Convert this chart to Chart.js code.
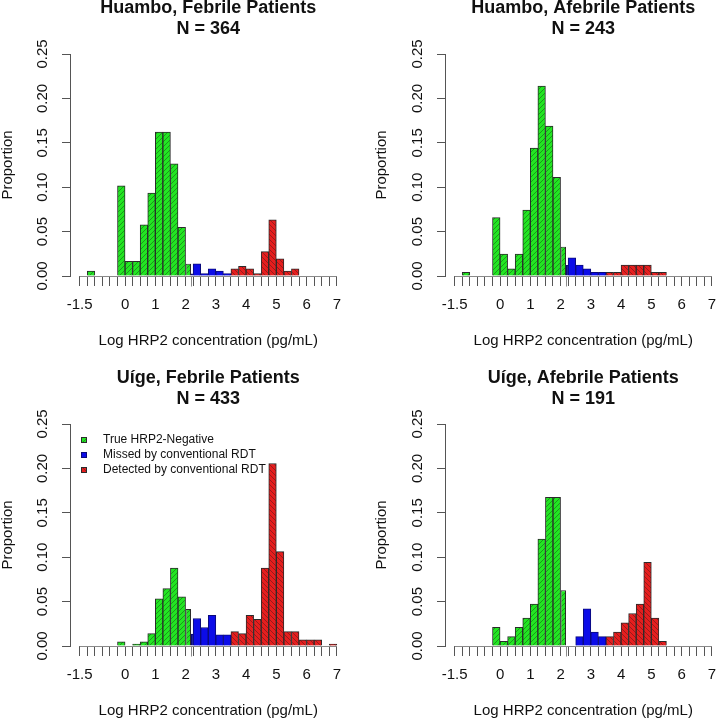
<!DOCTYPE html>
<html>
<head>
<meta charset="utf-8">
<script src="https://cdn.jsdelivr.net/npm/chart.js@4.4.1/dist/chart.umd.min.js"></script>
<style>
  html, body { margin: 0; padding: 0; overflow: hidden; background: #fff; }
  body { position: relative; width: 717px; height: 720px; }
  canvas { position: absolute; }
</style>
</head>
<body>
<canvas id="c1" width="358" height="360" style="left:0;top:-10px"></canvas>
<canvas id="c2" width="380" height="360" style="left:358px;top:-10px"></canvas>
<canvas id="c3" width="358" height="360" style="left:0;top:360px"></canvas>
<canvas id="c4" width="380" height="360" style="left:358px;top:360px"></canvas>
<script>
// --- bins (log10 pg/mL), width 0.25; the RDT cut-off splits the 2.0-2.25 bin ---
const BIN = 0.25;
const CUTOFF = 2.18;
const negativeBins = [-1.5, -1.25, -1, -0.75, -0.5, -0.25, 0, 0.25, 0.5, 0.75, 1, 1.25, 1.5, 1.75];
const negativeEdgeBin = [2, CUTOFF];
const missedEdgeBin = [CUTOFF, 2.25];
const missedBins = [2.25, 2.5, 2.75, 3, 3.25];
const detectedBins = [3.5, 3.75, 4, 4.25, 4.5, 4.75, 5, 5.25, 5.5, 5.75, 6, 6.25, 6.5, 6.75];
const lastEdge = 7;

const xLabelValues = [-1.5, 0, 1, 2, 3, 4, 5, 6, 7];
const yTickValues = [0, 0.05, 0.10, 0.15, 0.20, 0.25];

const legendLabels = ['True HRP2-Negative', 'Missed by conventional RDT', 'Detected by conventional RDT'];

// --- proportions ---
// Huambo, febrile (N = 364)
const huamboFebNegative = [0, 0.0055, 0, 0, 0, 0.1016, 0.0165, 0.0165, 0.0577, 0.0934, 0.1621, 0.1621, 0.1264, 0.0549];
const huamboFebNegEdge = 0.0137;
const huamboFebMissEdge = 0.0027;
const huamboFebMissed = [0.0137, 0.0027, 0.0082, 0.0055, 0.0027];
const huamboFebDetected = [0.0082, 0.011, 0.0082, 0.0027, 0.0275, 0.0632, 0.0192, 0.0055, 0.0082, 0, 0, 0, 0, 0];

// Huambo, afebrile (N = 243)
const huamboAfebNegative = [0, 0.0041, 0, 0, 0, 0.0658, 0.0247, 0.0082, 0.0247, 0.0741, 0.144, 0.214, 0.1687, 0.1111];
const huamboAfebNegEdge = 0.0329;
const huamboAfebMissEdge = 0.0123;
const huamboAfebMissed = [0.0206, 0.0123, 0.0082, 0.0041, 0.0041];
const huamboAfebDetected = [0.0041, 0.0041, 0.0123, 0.0123, 0.0123, 0.0123, 0.0041, 0.0041, 0, 0, 0, 0, 0, 0];

// Uige, febrile (N = 433)
const uigeFebNegative = [0, 0, 0, 0, 0, 0.0046, 0, 0.0023, 0.0046, 0.0139, 0.0531, 0.0647, 0.0878, 0.0554];
const uigeFebNegEdge = 0.0416;
const uigeFebMissEdge = 0.0139;
const uigeFebMissed = [0.031, 0.0208, 0.0346, 0.0125, 0.0125];
const uigeFebDetected = [0.0162, 0.0139, 0.0346, 0.030, 0.0878, 0.2055, 0.1062, 0.0162, 0.0162, 0.0069, 0.0069, 0.0069, 0, 0.0023];

// Uige, afebrile (N = 191)
const uigeAfebNegative = [0, 0, 0, 0, 0, 0.0209, 0.0052, 0.0105, 0.0209, 0.0314, 0.0471, 0.1204, 0.1675, 0.1675];
const uigeAfebNegEdge = 0.0628;
const uigeAfebMissEdge = 0;
const uigeAfebMissed = [0, 0.0105, 0.0419, 0.0157, 0.0105];
const uigeAfebDetected = [0.0105, 0.0157, 0.0262, 0.0366, 0.0471, 0.0942, 0.0314, 0.0052, 0, 0, 0, 0, 0, 0];

const FONT = '"Liberation Sans", Arial, Helvetica, sans-serif';
Chart.defaults.font.family = FONT;
Chart.defaults.color = '#111';

const X_MIN = -1.82;
const X_MAX = 7.32;
const binTickValues = [...negativeBins, negativeEdgeBin[0], ...missedBins, ...detectedBins, lastEdge];

// hatched fill like R's density lines
function hatch(base, ink, dir) {
  const s = 5;
  const c = document.createElement('canvas');
  c.width = s; c.height = s;
  const g = c.getContext('2d');
  g.fillStyle = base;
  g.fillRect(0, 0, s, s);
  g.strokeStyle = ink;
  g.lineWidth = 1;
  g.beginPath();
  if (dir > 0) {
    g.moveTo(0, s); g.lineTo(s, 0);
    g.moveTo(-1, 1); g.lineTo(1, -1);
    g.moveTo(s - 1, s + 1); g.lineTo(s + 1, s - 1);
  } else {
    g.moveTo(0, 0); g.lineTo(s, s);
    g.moveTo(-1, s - 1); g.lineTo(1, s + 1);
    g.moveTo(s - 1, -1); g.lineTo(s + 1, 1);
  }
  g.stroke();
  return g.createPattern(c, 'repeat');
}

const greenFill = hatch('#22e622', '#1c961c', 1);
const redFill = hatch('#e61e1e', '#961c1c', -1);
const blueFill = '#0c0ce8';
const darkEdge = '#2b2b2b';
const blueEdge = '#0a0a7a';

const setBinTicks = scale => { scale.ticks = binTickValues.map(v => ({ value: v })); };
const setYTicks = scale => { scale.ticks = yTickValues.map(v => ({ value: v })); };

const toPoints = (starts, values) => starts.map((s, i) => ({ x: s + BIN / 2, y: values[i] }));

// invisible copy of the x axis, only carries the narrow bars at the cut-off
const edgeAxis = {
  type: 'linear', display: true, offset: false, min: X_MIN, max: X_MAX,
  afterBuildTicks: setBinTicks,
  border: { display: false },
  grid: { display: false, drawTicks: false },
  ticks: { display: false }
};

// x baseline from -1.5 to 7 plus the cut-off tick, like R's axis
const baselinePlugin = {
  id: 'baseline',
  beforeDatasetsDraw(chart) {
    const { ctx, scales: { x, y } } = chart;
    const y0 = Math.round(y.getPixelForValue(0)) + 0.5;
    ctx.save();
    ctx.strokeStyle = '#8a8a8a';
    ctx.lineWidth = 1;
    ctx.beginPath();
    ctx.moveTo(x.getPixelForValue(binTickValues[0]), y0);
    ctx.lineTo(x.getPixelForValue(lastEdge), y0);
    const xc = Math.round(x.getPixelForValue(CUTOFF)) + 0.5;
    ctx.moveTo(xc, y0);
    ctx.lineTo(xc, y0 + 10);
    ctx.stroke();
    ctx.restore();
  }
};

const legendPlugin = {
  id: 'boxLegend',
  afterDraw(chart, args, opts) {
    if (!opts.show) return;
    const { ctx, chartArea } = chart;
    const fills = [greenFill, blueFill, redFill];
    ctx.save();
    ctx.font = '12px ' + FONT;
    ctx.textBaseline = 'middle';
    legendLabels.forEach((t, i) => {
      const yy = chartArea.top + 16 + 15 * i;
      ctx.fillStyle = fills[i];
      ctx.fillRect(chartArea.left + 11, yy - 3, 6, 6);
      ctx.strokeStyle = i === 1 ? blueEdge : darkEdge;
      ctx.lineWidth = 1;
      ctx.strokeRect(chartArea.left + 11.5, yy - 2.5, 5, 5);
      ctx.fillStyle = '#111';
      ctx.fillText(t, chartArea.left + 33, yy);
    });
    ctx.restore();
  }
};

const panels = [
  { id: 'c1', title: ['Huambo, Febrile Patients', 'N = 364'], neg: huamboFebNegative, negEdge: huamboFebNegEdge,
    missEdge: huamboFebMissEdge, missed: huamboFebMissed, detected: huamboFebDetected, padLeft: 0, yGap: 19.7, padRight: 11.5, legend: false },
  { id: 'c2', title: ['Huambo, Afebrile Patients', 'N = 243'], neg: huamboAfebNegative, negEdge: huamboAfebNegEdge,
    missEdge: huamboAfebMissEdge, missed: huamboAfebMissed, detected: huamboAfebDetected, padLeft: 16, yGap: 20.7, padRight: 16.5, legend: false },
  { id: 'c3', title: ['Uíge, Febrile Patients', 'N = 433'], neg: uigeFebNegative, negEdge: uigeFebNegEdge,
    missEdge: uigeFebMissEdge, missed: uigeFebMissed, detected: uigeFebDetected, padLeft: 0, yGap: 19.7, padRight: 11.5, legend: true },
  { id: 'c4', title: ['Uíge, Afebrile Patients', 'N = 191'], neg: uigeAfebNegative, negEdge: uigeAfebNegEdge,
    missEdge: uigeAfebMissEdge, missed: uigeAfebMissed, detected: uigeAfebDetected, padLeft: 16, yGap: 20.7, padRight: 16.5, legend: false }
];

const barCommon = { grouped: false, categoryPercentage: 1, barPercentage: 1, borderWidth: 1, borderSkipped: 'start' };

panels.forEach(p => new Chart(document.getElementById(p.id), {
  type: 'bar',
  data: {
    datasets: [
      { ...barCommon, label: legendLabels[0], data: toPoints(negativeBins, p.neg), xAxisID: 'x',
        backgroundColor: greenFill, borderColor: darkEdge },
      { ...barCommon, label: legendLabels[0] + ' (edge)', xAxisID: 'xNegEdge',
        data: [{ x: (negativeEdgeBin[0] + negativeEdgeBin[1]) / 2, y: p.negEdge }],
        barPercentage: (negativeEdgeBin[1] - negativeEdgeBin[0]) / BIN,
        backgroundColor: greenFill, borderColor: darkEdge },
      { ...barCommon, label: legendLabels[1] + ' (edge)', xAxisID: 'xMissEdge',
        data: [{ x: (missedEdgeBin[0] + missedEdgeBin[1]) / 2, y: p.missEdge }],
        barPercentage: (missedEdgeBin[1] - missedEdgeBin[0]) / BIN,
        backgroundColor: blueFill, borderColor: blueEdge },
      { ...barCommon, label: legendLabels[1], data: toPoints(missedBins, p.missed), xAxisID: 'x',
        backgroundColor: blueFill, borderColor: blueEdge },
      { ...barCommon, label: legendLabels[2], data: toPoints(detectedBins, p.detected), xAxisID: 'x',
        backgroundColor: redFill, borderColor: darkEdge }
    ]
  },
  options: {
    responsive: false,
    animation: false,
    devicePixelRatio: 1,
    layout: { padding: { left: p.padLeft, right: p.padRight, top: 0, bottom: 0 } },
    plugins: {
      legend: { display: false },
      tooltip: { enabled: false },
      title: {
        display: true, fullSize: false, text: p.title, color: '#111',
        font: { size: 18, weight: 'bold', lineHeight: 21 / 18 },
        padding: { top: 7.5, bottom: 14.5 }
      },
      boxLegend: { show: p.legend }
    },
    scales: {
      x: {
        type: 'linear', offset: false, min: X_MIN, max: X_MAX,
        afterBuildTicks: setBinTicks,
        border: { display: false },
        grid: { display: true, offset: false, drawOnChartArea: false, drawTicks: true, tickLength: 10, tickColor: '#555' },
        ticks: {
          autoSkip: false, maxRotation: 0, minRotation: 0, padding: 10, color: '#111',
          font: { size: 15 },
          callback: v => xLabelValues.includes(v) ? String(v) : ''
        },
        title: { display: true, text: 'Log HRP2 concentration (pg/mL)', color: '#111',
                 font: { size: 15, lineHeight: 1 }, padding: { top: 9, bottom: 2 } }
      },
      xNegEdge: edgeAxis,
      xMissEdge: edgeAxis,
      y: {
        min: 0, max: 0.25,
        afterBuildTicks: setYTicks,
        border: { display: true, color: '#555', width: 1 },
        grid: { display: true, drawOnChartArea: false, drawTicks: true, tickLength: 8, tickColor: '#555' },
        ticks: {
          minRotation: 90, maxRotation: 90, crossAlign: 'center', padding: 4.4, color: '#111',
          font: { size: 15 },
          callback: v => Number(v).toFixed(2)
        },
        title: { display: true, text: 'Proportion', color: '#111',
                 font: { size: 15, lineHeight: 1 }, padding: { top: 0.5, bottom: p.yGap } }
      }
    }
  },
  plugins: [baselinePlugin, legendPlugin]
}));
</script>
</body>
</html>
